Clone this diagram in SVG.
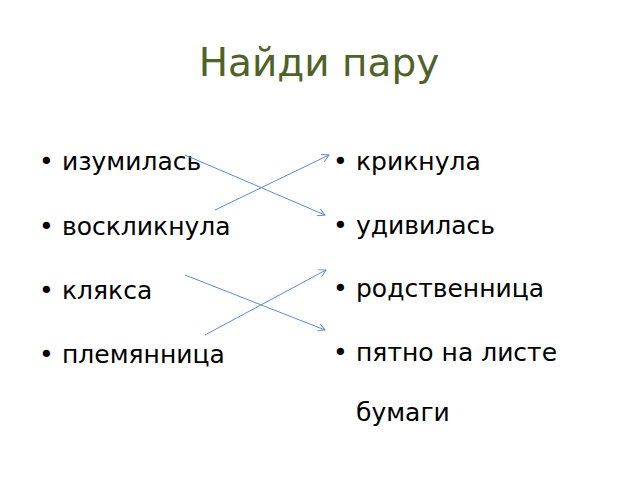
<svg xmlns="http://www.w3.org/2000/svg" width="640" height="480" viewBox="0 0 640 480">
<defs>
<style>
.t{font-family:"DejaVu Sans","Liberation Sans",sans-serif;font-size:25px;fill:#000}
.b{font-family:"DejaVu Sans","Liberation Sans",sans-serif;font-size:25px;fill:#000}
.title{font-family:"DejaVu Sans","Liberation Sans",sans-serif;font-size:39px;fill:#4F6228}
.c{stroke:#5B8BD0;stroke-width:1;fill:none;marker-end:url(#ah)}
</style>
<marker id="ah" viewBox="0 0 10 10" refX="9" refY="5" markerWidth="8" markerHeight="8" markerUnits="userSpaceOnUse" orient="auto">
<path d="M0,0 L9,5 L0,10" fill="none" stroke="#5B8BD0" stroke-width="1.2"/>
</marker>
</defs>
<rect width="640" height="480" fill="#fff"/>
<text class="title" x="319" y="76" text-anchor="middle">Найди пару</text>
<g id="left1"><text class="b" x="39" y="170">•</text><text class="t" x="62" y="170">изумилась</text></g>
<g id="left2"><text class="b" x="39" y="235">•</text><text class="t" x="62" y="235">воскликнула</text></g>
<g id="left3"><text class="b" x="39" y="299">•</text><text class="t" x="62" y="299">клякса</text></g>
<g id="left4"><text class="b" x="39" y="363">•</text><text class="t" x="62" y="363">племянница</text></g>
<g id="right1"><text class="b" x="333" y="170">•</text><text class="t" x="356" y="170">крикнула</text></g>
<g id="right2"><text class="b" x="333" y="234">•</text><text class="t" x="356" y="234">удивилась</text></g>
<g id="right3"><text class="b" x="333" y="297">•</text><text class="t" x="356" y="297">родственница</text></g>
<g id="right4"><text class="b" x="333" y="361">•</text><text class="t" x="356" y="361">пятно на листе</text><text class="t" x="356" y="421">бумаги</text></g>
<g id="connectors">
<line class="c" x1="185" y1="155" x2="325" y2="215"/>
<line class="c" x1="215" y1="210" x2="329" y2="155"/>
<line class="c" x1="185" y1="275" x2="325" y2="330"/>
<line class="c" x1="205" y1="335" x2="326" y2="270"/>
</g>
</svg>
